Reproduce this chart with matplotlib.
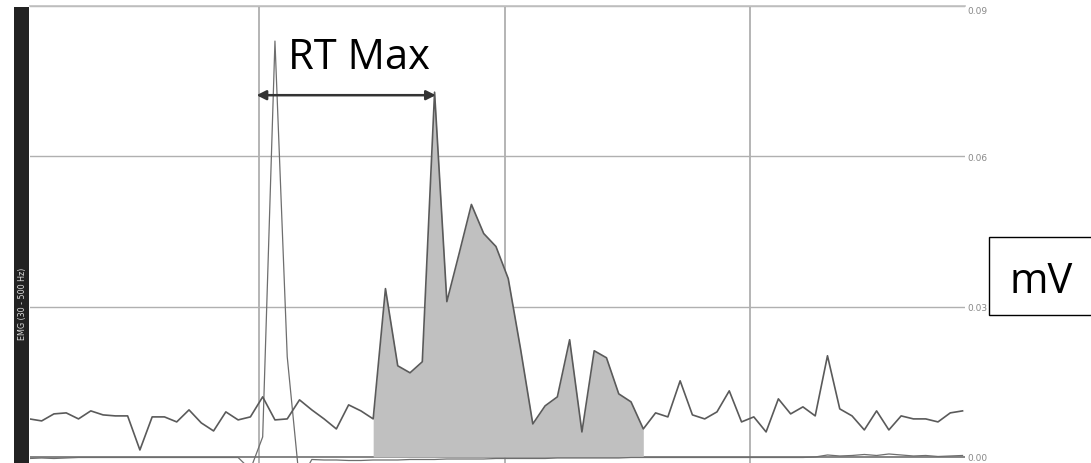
import matplotlib
matplotlib.use("Agg")
import matplotlib.pyplot as plt
from matplotlib.patches import Rectangle
import numpy as np

# EMG envelope, one value per sample (mV)
emg = [0.0076, 0.0072, 0.0086, 0.0088, 0.0076, 0.0092, 0.0084, 0.0082, 0.0082, 0.0014,
       0.0080, 0.0080, 0.0070, 0.0094, 0.0068, 0.0052, 0.0090, 0.0074, 0.0080, 0.0120,
       0.0074, 0.0076, 0.0114, 0.0094, 0.0076, 0.0056, 0.0104, 0.0092, 0.0076, 0.0336,
       0.0182, 0.0168, 0.0190, 0.0728, 0.0310, 0.0406, 0.0504, 0.0446, 0.0420, 0.0356,
       0.0216, 0.0066, 0.0102, 0.0120, 0.0234, 0.0050, 0.0212, 0.0198, 0.0126, 0.0110,
       0.0056, 0.0088, 0.0080, 0.0152, 0.0084, 0.0076, 0.0090, 0.0132, 0.0070, 0.0080,
       0.0050, 0.0116, 0.0086, 0.0100, 0.0082, 0.0202, 0.0096, 0.0082, 0.0054, 0.0092,
       0.0054, 0.0082, 0.0076, 0.0076, 0.0070, 0.0088, 0.0092]

# stimulus / trigger channel on the same scale
trigger = [-0.0003, -0.0002, -0.0003, -0.0002, -0.0001, -0.0001, -0.0001, -0.0001, -0.0001, -0.0001,
           -0.0001, -0.0001, -0.0001, -0.0001, -0.0001, -0.0001, -0.0001, -0.0001, -0.0025, 0.0040,
           0.0830, 0.0200, -0.0050, -0.0005, -0.0006, -0.0006, -0.0007, -0.0007, -0.0006, -0.0006,
           -0.0006, -0.0005, -0.0005, -0.0005, -0.0004, -0.0004, -0.0004, -0.0004, -0.0003, -0.0003,
           -0.0003, -0.0003, -0.0003, -0.0002, -0.0002, -0.0002, -0.0002, -0.0002, -0.0002, -0.0001,
           -0.0001, -0.0001, -0.0001, -0.0001, -0.0001, -0.0001, -0.0001, -0.0001, -0.0001, -0.0001,
           -0.0001, -0.0001, -0.0001, -0.0001, 0.0000, 0.0004, 0.0002, 0.0003, 0.0005, 0.0003,
           0.0006, 0.0004, 0.0002, 0.0003, 0.0001, 0.0002, 0.0003]

samples = np.arange(len(emg))
burst_start, burst_end = 28, 50      # shaded response window
rt_from, rt_to = 18.5, 33.1          # RT Max span (samples)
rt_level = 0.0722

y_ticks = [0.00, 0.03, 0.06, 0.09]
y_tick_labels = ["0.00", "0.03", "0.06", "0.09"]
v_grid = [18.7, 38.7, 58.7]

W, H = 1091, 464
fig = plt.figure(figsize=(W / 100, H / 100), dpi=100)
ax = fig.add_axes([30 / W, 0, 935 / W, 457 / H])

emg = np.array(emg)
win = (samples >= burst_start) & (samples <= burst_end)
ax.fill_between(samples[win], 0, emg[win], color="#c0c0c0", lw=0, zorder=1)

for v in v_grid:
    ax.axvline(v, color="#a0a0a0", lw=1.1, zorder=0)
for t in y_ticks[1:]:
    ax.axhline(t, color="#b0b0b0", lw=1.0, zorder=0)
ax.axhline(0, color="#707070", lw=1.2, zorder=0)

ax.plot(samples, emg, color="#5a5a5a", lw=1.2, zorder=3)
ax.plot(samples, trigger, color="#6e6e6e", lw=0.9, zorder=2)

ax.annotate("", xy=(rt_from, rt_level), xytext=(rt_to, rt_level),
            arrowprops=dict(arrowstyle="<|-|>", color="#333333", lw=1.8,
                            mutation_scale=14, shrinkA=0, shrinkB=0), zorder=5)
ax.text(21.1, 0.0776, "RT Max", fontsize=30, family=["Open Sans", "DejaVu Sans"],
        ha="left", va="baseline", color="black", zorder=6)

ax.set_xlim(0.05, 76.2)
ax.set_ylim(-0.0012, 0.09)
ax.yaxis.tick_right()
ax.set_yticks(y_ticks)
ax.set_yticklabels(y_tick_labels)
ax.tick_params(axis="y", length=0, pad=2, labelsize=6.5, labelcolor="#888888")
ax.set_xticks([])
for s in ["left", "right", "bottom"]:
    ax.spines[s].set_visible(False)
ax.spines["top"].set_color("#c0c0c0")
ax.spines["top"].set_linewidth(1.2)
for lab in ax.get_yticklabels():
    if lab.get_text() == "0.09":
        lab.set_va("top")

# channel strip on the left
fig.patches.append(Rectangle((14 / W, 0), 15 / W, 456 / H, transform=fig.transFigure,
                             facecolor="#222222", edgecolor="none"))
fig.text(22 / W, (H - 304) / H, "EMG (30 - 500 Hz)", rotation=90, color="#dddddd",
         fontsize=5.8, ha="center", va="center")

# unit box
fig.patches.append(Rectangle((989 / W, (H - 316) / H), 110 / W, 78 / H, transform=fig.transFigure,
                             facecolor="white", edgecolor="black", lw=1.0, zorder=5))
fig.text(1041 / W, (H - 282) / H, "mV", fontsize=30, family=["Open Sans", "DejaVu Sans"],
         ha="center", va="center", zorder=6)

fig.savefig("out.png", dpi=100)
